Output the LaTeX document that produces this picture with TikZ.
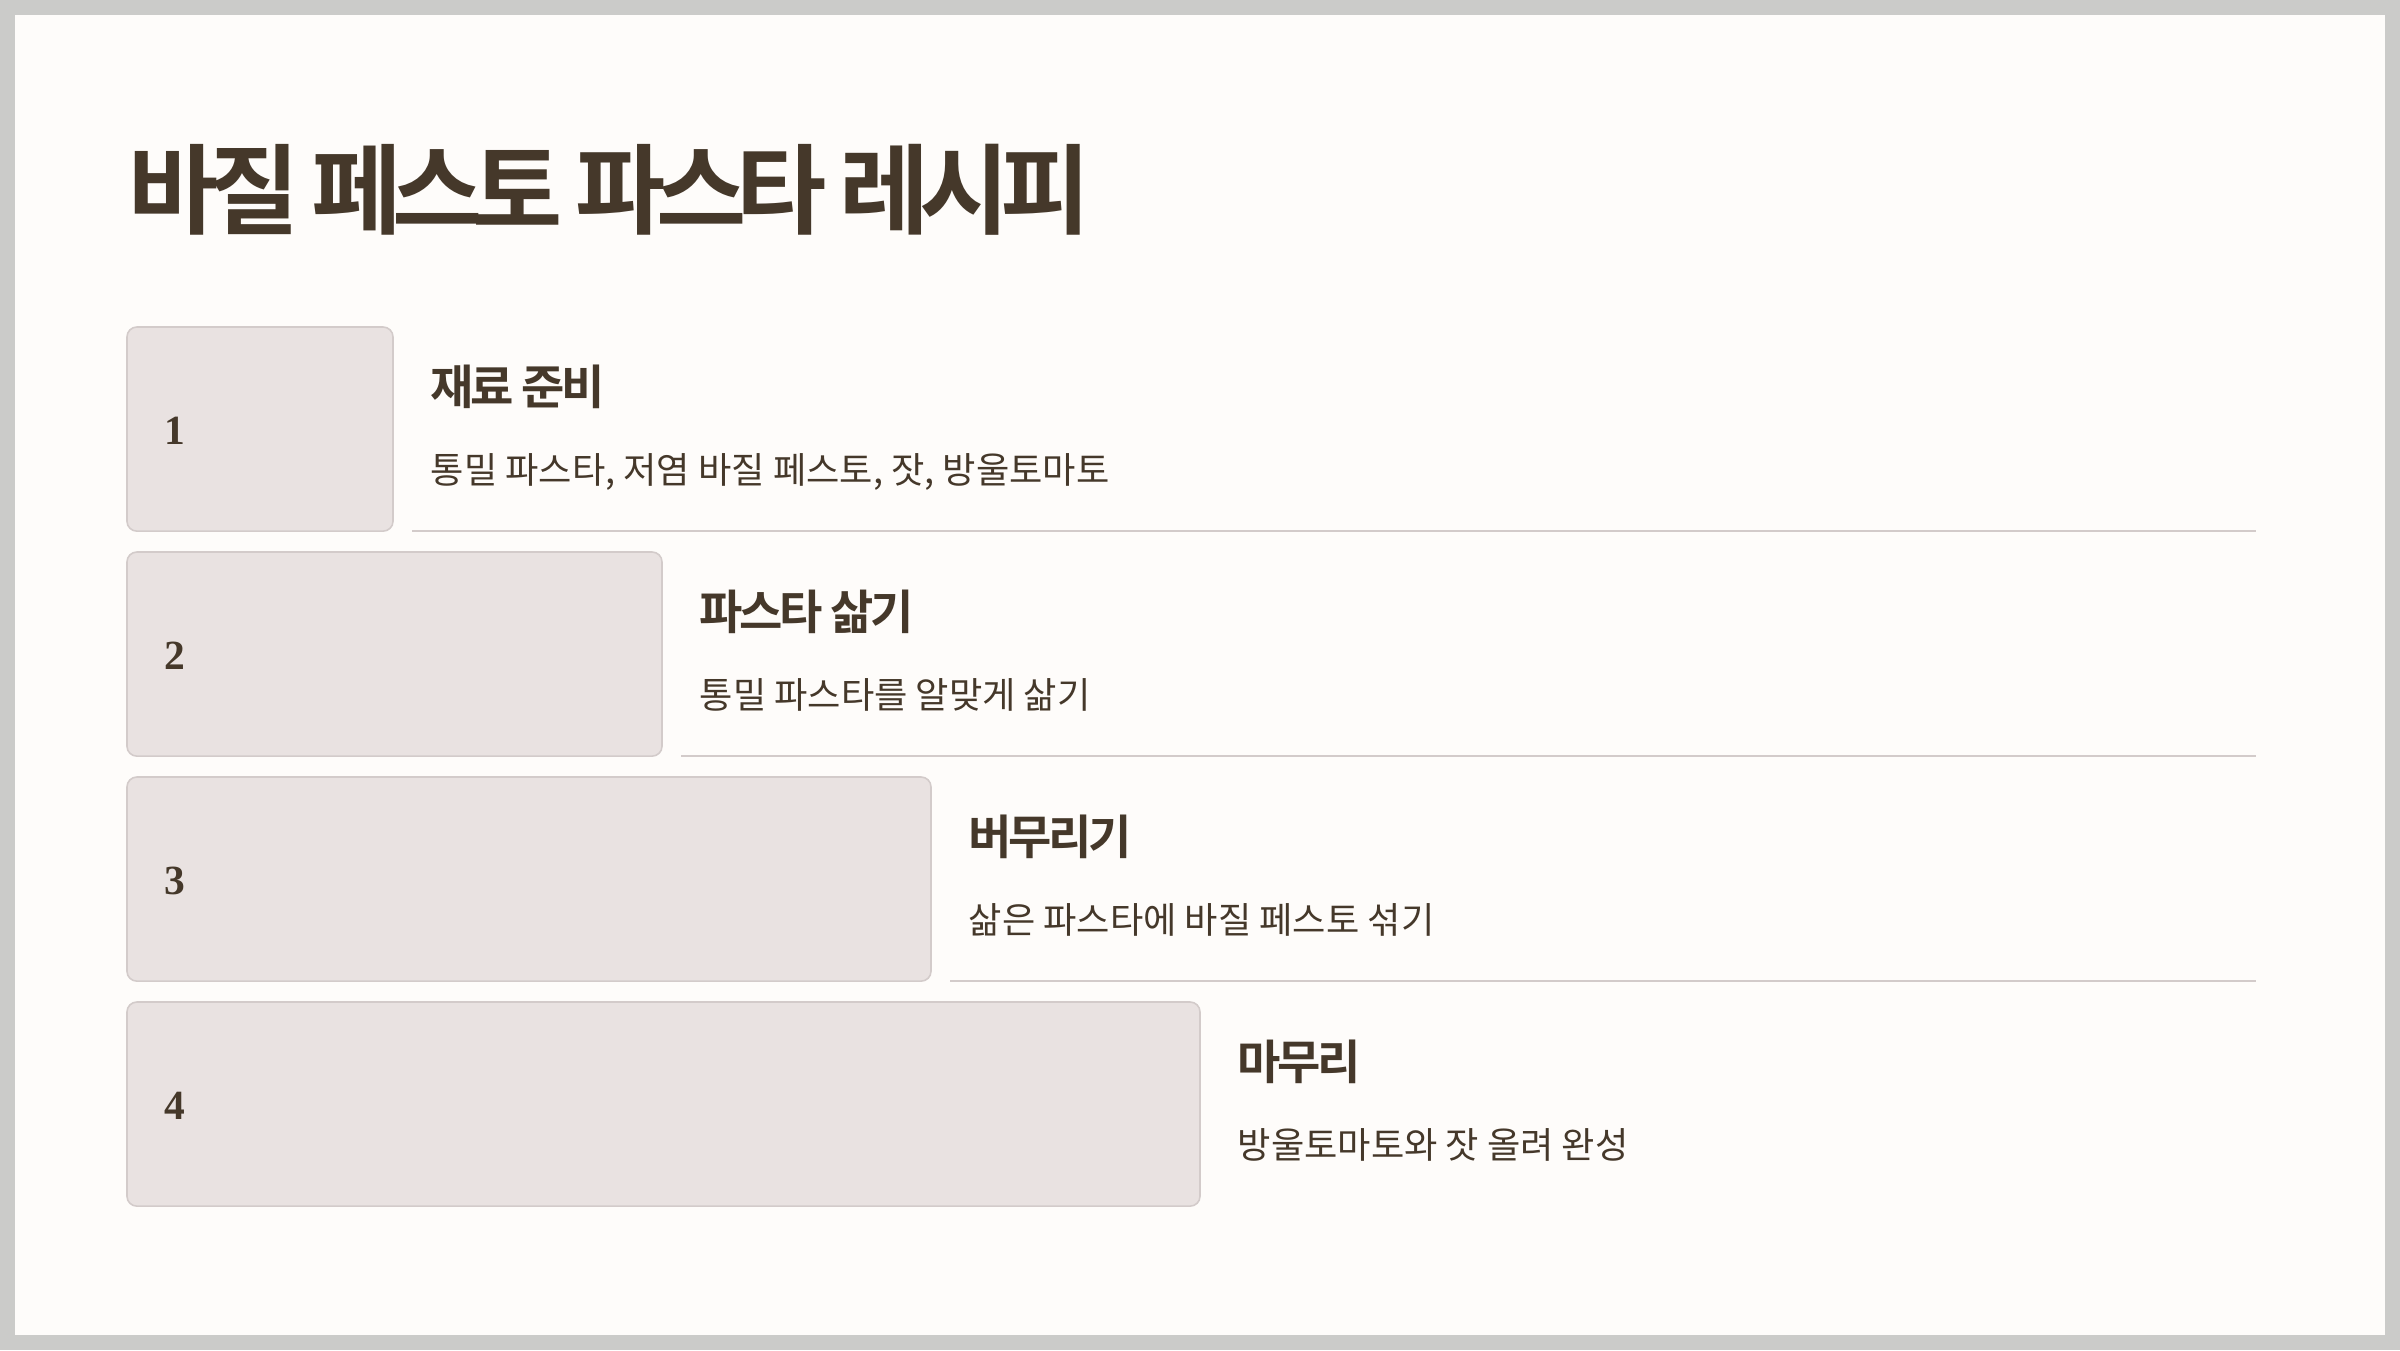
\documentclass[tikz,border=0pt]{standalone}
\usepackage{fontspec}
\setmainfont{Noto Sans CJK KR}[BoldFont={Noto Sans CJK KR Bold}]
\newfontfamily\titlefont{Noto Sans CJK KR Bold}[LetterSpace=-10]
\newfontfamily\headfont{Noto Sans CJK KR Bold}[LetterSpace=-7]
\newfontfamily\numfont{Liberation Serif}
\usetikzlibrary{positioning}

\definecolor{ink}{HTML}{45382A}
\definecolor{paper}{HTML}{FEFCFA}
\definecolor{frame}{HTML}{CBCBC9}
\definecolor{boxfill}{HTML}{E9E2E1}
\definecolor{boxline}{HTML}{D3CBCA}

\begin{document}
\begin{tikzpicture}[x=0.01cm, y=-0.01cm,
 stepbox/.style = {rectangle, draw=boxline, fill=boxfill,% numbered blocks
                line width=0.45pt, rounded corners=2.8pt,
                minimum height=2.04cm, inner sep=0pt, outer sep=0pt,
                anchor=north west},
    title/.style = {font=\titlefont\fontsize{27.9}{30}\selectfont,
                text=ink, inner sep=0pt, anchor=base west},
      num/.style = {font=\numfont\bfseries\fontsize{11.8}{12}\selectfont,
                text=ink, inner sep=0pt, anchor=base west},
     head/.style = {font=\headfont\fontsize{13.4}{15}\selectfont,
                text=ink, inner sep=0pt, anchor=base west},
     desc/.style = {font=\fontsize{10.3}{12}\selectfont,
                text=ink, inner sep=0pt, anchor=base west},
      sep/.style = {draw=boxline, line width=0.55pt},
                        ]
\fill[frame] (0,0) rectangle (2400,1350);
\fill[paper] (15,15) rectangle (2385,1335);
\coordinate (rend) at (2256,0);
\node[title] (title) at (128,226) {바질 페스토 파스타 레시피};
\foreach \i/\h/\d in {1/재료 준비/{통밀 파스타, 저염 바질 페스토, 잣, 방울토마토},
                      2/파스타 삶기/통밀 파스타를 알맞게 삶기,
                      3/버무리기/삶은 파스타에 바질 페스토 섞기,
                      4/마무리/방울토마토와 잣 올려 완성}% <-- steps
{
  \node[stepbox, minimum width={(266+269*(\i-1))*0.01cm}]
       (b\i) at (127,{327+225*(\i-1)}) {};
  \node[num]  (n\i) at ([xshift=0.37cm, yshift=-1.17cm]b\i.north west) {\i};
  \node[head] (h\i) at ([xshift=0.37cm, yshift=-0.77cm]b\i.north east) {\h};
  \node[desc] (d\i) at ([xshift=0.37cm, yshift=-1.56cm]b\i.north east) {\d};
  \ifnum\i<4
    \draw[sep] ([xshift=0.19cm]b\i.south east) -- (b\i.south east -| rend);
  \fi
}
\end{tikzpicture}
\end{document}
